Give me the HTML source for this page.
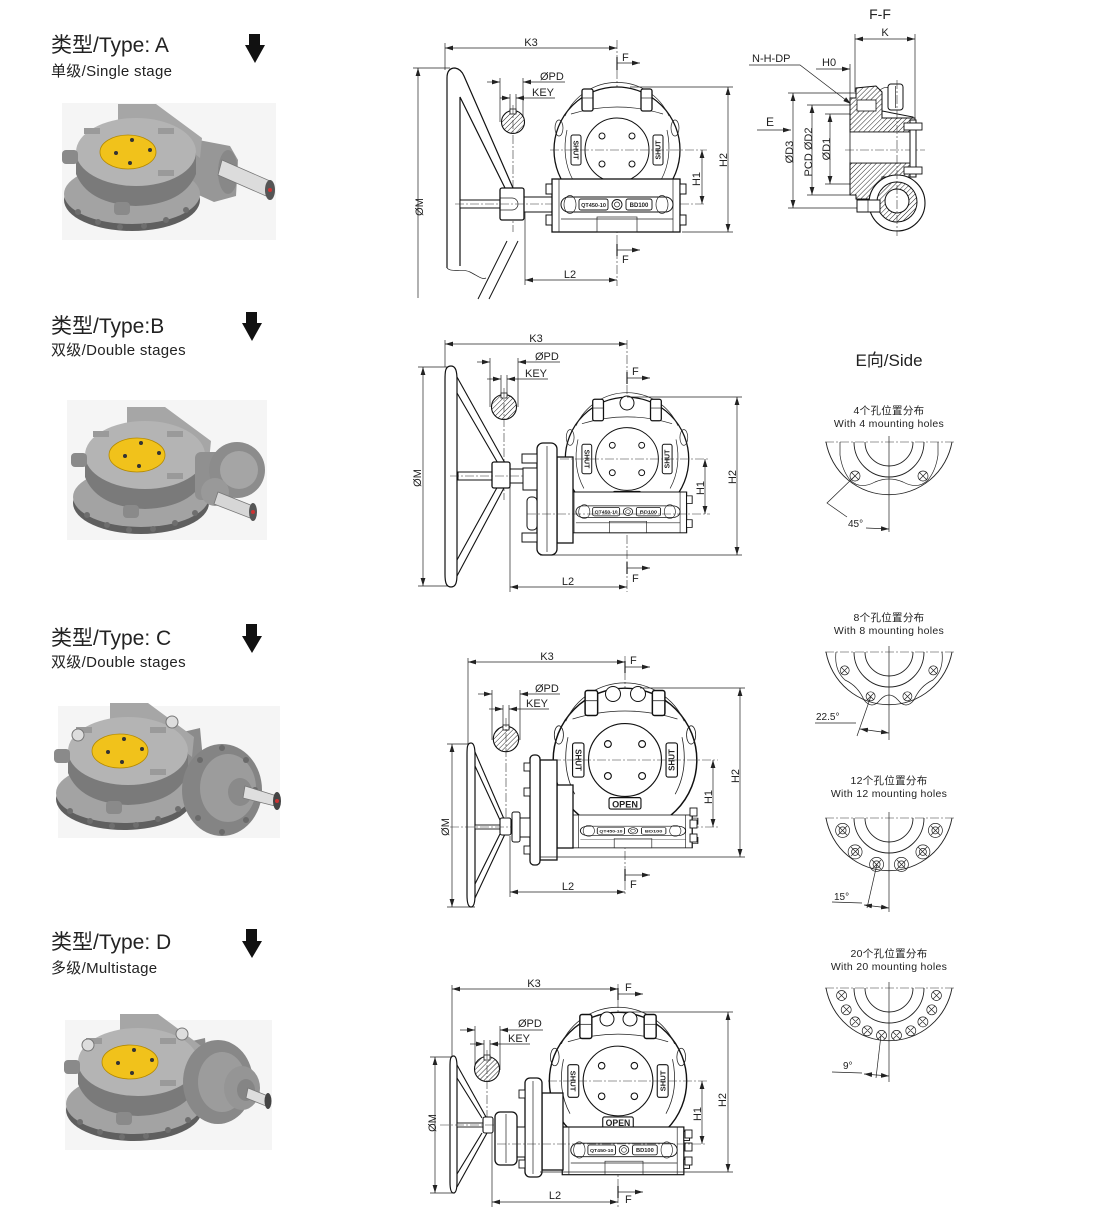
<!DOCTYPE html>
<html><head><meta charset="utf-8"><style>
html,body{margin:0;padding:0;background:#fff;}
svg{display:block;}
.t{fill:none;stroke:#222;stroke-width:.7}
.k{fill:#fff;stroke:#111;stroke-width:1.3}
.c{fill:none;stroke:#333;stroke-width:.6;stroke-dasharray:9 2 2 2}
text{fill:#222;font-family:"Liberation Sans","Noto Sans CJK SC",sans-serif;font-size:11px}
.ti{font-size:21px;fill:#222}
.su{font-size:15px;fill:#222;letter-spacing:.3px}
.sm{font-size:10.5px;letter-spacing:.3px}
</style></head><body>
<svg width="1095" height="1214" viewBox="0 0 1095 1214" xmlns="http://www.w3.org/2000/svg">
<defs>
<marker id="a" viewBox="0 0 8 6" refX="8" refY="3" markerWidth="8" markerHeight="6" markerUnits="userSpaceOnUse" orient="auto-start-reverse"><path d="M0,0.6 L8,3 L0,5.4 Z" fill="#222"/></marker>
<pattern id="h" width="3.5" height="3.5" patternUnits="userSpaceOnUse" patternTransform="rotate(45)"><rect width="3.5" height="3.5" fill="#fff"/><line x1="0" y1="0" x2="0" y2="3.5" stroke="#222" stroke-width="1"/></pattern>

<g id="gbt">
<circle r="63" class="k"/>
<path d="M-52,-34 A57,57 0 0 1 52,-34" class="t"/>
<path d="M-46,-36 Q0,-50 46,-36" class="t"/>
<path d="M-50,-20 Q-56,8 -44,30" class="t"/>
<path d="M50,-20 Q56,8 44,30" class="t"/>
<ellipse cx="-58" cy="-22" rx="4" ry="8" class="t"/>
<ellipse cx="58" cy="-22" rx="4" ry="8" class="t"/>
<rect x="-35" y="-61" width="11" height="22" rx="2" class="k"/>
<line x1="-35" y1="-52" x2="-24" y2="-52" class="t"/>
<rect x="24" y="-61" width="11" height="22" rx="2" class="k"/>
<line x1="24" y1="-52" x2="35" y2="-52" class="t"/>
<circle r="32" class="k" style="stroke-width:1"/>
<circle cx="-15" cy="-14" r="3" class="k" style="stroke-width:1"/>
<circle cx="15" cy="-14" r="3" class="k" style="stroke-width:1"/>
<circle cx="-15" cy="14" r="3" class="k" style="stroke-width:1"/>
<circle cx="15" cy="14" r="3" class="k" style="stroke-width:1"/>
<rect x="-46" y="-15" width="10" height="30" rx="2" class="k" style="stroke-width:1"/>
<text transform="translate(-43.5,0) rotate(90)" text-anchor="middle" style="font-size:7px;font-weight:bold">SHUT</text>
<rect x="36" y="-15" width="10" height="30" rx="2" class="k" style="stroke-width:1"/>
<text transform="translate(43.5,0) rotate(-90)" text-anchor="middle" style="font-size:7px;font-weight:bold">SHUT</text>
<rect x="-14" y="33" width="28" height="10" rx="1.5" class="k" style="stroke-width:1"/>
<text x="0" y="41.5" text-anchor="middle" style="font-size:8px;font-weight:bold">OPEN</text>
</g>

<g id="gbb">
<rect x="-65" y="0" width="128" height="53" class="k"/>
<line x1="-58" y1="0" x2="-58" y2="53" class="t"/>
<line x1="56" y1="0" x2="56" y2="53" class="t"/>
<rect x="-56" y="18" width="112" height="15" rx="7.5" class="k" style="stroke-width:1"/>
<ellipse cx="-47" cy="25.5" rx="6" ry="9" class="t"/>
<ellipse cx="45" cy="25.5" rx="6" ry="9" class="t"/>
<rect x="-38" y="20" width="29" height="11" rx="2" class="k" style="stroke-width:.9"/>
<text x="-23.5" y="28" text-anchor="middle" style="font-size:5.5px;font-weight:bold">QT450-10</text>
<circle cx="0" cy="25.5" r="5" class="k" style="stroke-width:.9"/>
<circle cx="0" cy="25.5" r="2.5" class="t"/>
<rect x="9" y="20" width="26" height="11" rx="2" class="k" style="stroke-width:.9"/>
<text x="22" y="28" text-anchor="middle" style="font-size:6px;font-weight:bold">BD100</text>
<line x1="-56" y1="40" x2="56" y2="40" class="t"/>
<rect x="-20" y="38" width="40" height="15" class="t"/>
<rect x="-71" y="5" width="6" height="10" class="k" style="stroke-width:1"/>
<rect x="-71" y="36" width="6" height="10" class="k" style="stroke-width:1"/>
<rect x="63" y="5" width="6" height="10" class="k" style="stroke-width:1"/>
<rect x="63" y="36" width="6" height="10" class="k" style="stroke-width:1"/>
</g>

<g id="pb">
<path d="M-10,-48 L28,-48 L74,-14 L72,6 L40,-20 L-10,-30Z" fill="#a6a6a6"/>
<ellipse cx="4" cy="48" rx="68" ry="31" fill="#5f5f5f"/>
<ellipse cx="4" cy="42" rx="68" ry="30" fill="#a3a3a3"/>
<g fill="#6e6e6e"><circle cx="-50" cy="60" r="3"/><circle cx="-30" cy="70" r="3"/><circle cx="-8" cy="75" r="3"/><circle cx="16" cy="74" r="3"/><circle cx="38" cy="68" r="3"/><circle cx="58" cy="58" r="3"/></g>
<path d="M-52,0 L-52,22 Q-40,52 8,54 Q56,52 68,22 L68,0 Z" fill="#7a7a7a"/>
<ellipse cx="8" cy="0" rx="60" ry="34" fill="#b4b4b4"/>
<rect x="-66" y="-2" width="16" height="14" rx="4" fill="#8a8a8a"/>
<rect x="-14" y="50" width="16" height="13" rx="4" fill="#8a8a8a"/>
<rect x="-44" y="-24" width="16" height="6" fill="#9a9a9a"/>
<rect x="30" y="-24" width="16" height="6" fill="#9a9a9a"/>
<rect x="30" y="18" width="16" height="6" fill="#9a9a9a"/>
<ellipse cx="0" cy="0" rx="28" ry="17" fill="#f1c21b" stroke="#b38900" stroke-width=".8"/>
<g fill="#333"><circle cx="4" cy="-12" r="2"/><circle cx="22" cy="-2" r="2"/><circle cx="-12" cy="1" r="2"/><circle cx="2" cy="11" r="2"/></g>
</g>
</defs>

<!-- ===== LEFT TITLES ===== -->
<text x="51" y="52" class="ti">类型/Type: A</text>
<text x="51" y="76" class="su">单级/Single stage</text>
<path d="M249,34 H260 V45 H265 L255,63 L245,45 H249 Z" fill="#111"/>

<text x="51" y="333" class="ti">类型/Type:B</text>
<text x="51" y="355" class="su">双级/Double stages</text>
<path d="M246,312 H257 V323 H262 L252,341 L242,323 H246 Z" fill="#111"/>

<text x="51" y="645" class="ti">类型/Type: C</text>
<text x="51" y="667" class="su">双级/Double stages</text>
<path d="M246,624 H257 V636 H262 L252,653 L242,636 H246 Z" fill="#111"/>

<text x="51" y="949" class="ti">类型/Type: D</text>
<text x="51" y="973" class="su">多级/Multistage</text>
<path d="M246,929 H257 V941 H262 L252,958 L242,941 H246 Z" fill="#111"/>

<!-- ===== PHOTOS ===== -->
<rect x="62" y="103" width="214" height="137" fill="#f5f5f5"/>
<path d="M188,138 L230,146 L238,160 L236,196 L214,202 L192,192 Z" fill="#979797"/>
<ellipse cx="228" cy="172" rx="10" ry="22" fill="#888"/>
<use href="#pb" transform="translate(128,152)"/>
<path d="M222,160 L270,181 L266,196 L218,175 Z" fill="#dcdcdc" stroke="#777" stroke-width=".8"/>
<ellipse cx="270" cy="190" rx="5" ry="10" fill="#555"/>
<circle cx="270" cy="190" r="2" fill="#c33"/>

<rect x="67" y="400" width="200" height="140" fill="#f5f5f5"/>
<use href="#pb" transform="translate(137,455)"/>
<rect x="195" y="452" width="30" height="48" rx="6" fill="#909090"/>
<circle cx="237" cy="470" r="28" fill="#8c8c8c"/>
<circle cx="239" cy="470" r="19" fill="#a5a5a5"/>
<circle cx="215" cy="492" r="14" fill="#999"/>
<path d="M218,492 L253,506 L250,518 L214,504 Z" fill="#d6d6d6" stroke="#777" stroke-width=".8"/>
<ellipse cx="253" cy="512" rx="4" ry="9" fill="#555"/>
<circle cx="253" cy="512" r="2" fill="#c33"/>

<rect x="58" y="706" width="222" height="132" fill="#f5f5f5"/>
<path d="M170,735 L200,728 L206,792 L180,802 Z" fill="#8b8b8b"/>
<use href="#pb" transform="translate(120,751)"/>
<ellipse cx="222" cy="790" rx="40" ry="46" fill="#848484"/>
<ellipse cx="228" cy="788" rx="28" ry="34" fill="#9c9c9c"/>
<g fill="#6a6a6a"><circle cx="200" cy="760" r="3"/><circle cx="222" cy="748" r="3"/><circle cx="246" cy="760" r="3"/><circle cx="255" cy="790" r="3"/><circle cx="246" cy="820" r="3"/><circle cx="222" cy="832" r="3"/><circle cx="198" cy="818" r="3"/></g>
<ellipse cx="240" cy="792" rx="12" ry="14" fill="#8a8a8a"/>
<path d="M245,786 L277,796 L275,806 L243,798 Z" fill="#dedede" stroke="#777" stroke-width=".8"/>
<ellipse cx="277" cy="801" rx="4" ry="9" fill="#444"/>
<circle cx="277" cy="801" r="2" fill="#c33"/>
<circle cx="78" cy="735" r="6" fill="#ddd" stroke="#777"/>
<circle cx="172" cy="722" r="6" fill="#ddd" stroke="#777"/>

<rect x="65" y="1020" width="207" height="130" fill="#f5f5f5"/>
<path d="M175,1045 L205,1038 L210,1100 L185,1108 Z" fill="#8b8b8b"/>
<use href="#pb" transform="translate(130,1062)"/>
<ellipse cx="218" cy="1082" rx="35" ry="42" fill="#888"/>
<ellipse cx="222" cy="1082" rx="24" ry="30" fill="#9c9c9c"/>
<ellipse cx="242" cy="1088" rx="18" ry="22" fill="#959595"/>
<ellipse cx="246" cy="1090" rx="9" ry="11" fill="#858585"/>
<path d="M248,1088 L268,1096 L266,1106 L246,1098 Z" fill="#dedede" stroke="#777" stroke-width=".8"/>
<ellipse cx="268" cy="1101" rx="3.5" ry="8" fill="#444"/>
<circle cx="88" cy="1045" r="6" fill="#ddd" stroke="#777"/>
<circle cx="182" cy="1034" r="6" fill="#ddd" stroke="#777"/>

<!-- ===== TYPE A DRAWING ===== -->
<line x1="445" y1="48" x2="617" y2="48" class="t" marker-start="url(#a)" marker-end="url(#a)"/>
<line x1="445" y1="43" x2="445" y2="70" class="t"/>
<text x="531" y="46" text-anchor="middle">K3</text>
<line x1="617" y1="40" x2="617" y2="286" class="c"/>
<line x1="617" y1="57" x2="617" y2="70" stroke="#222" stroke-width="1.2"/>
<line x1="617" y1="63" x2="640" y2="63" class="t" marker-end="url(#a)"/>
<text x="622" y="61">F</text>
<line x1="617" y1="244" x2="617" y2="256" stroke="#222" stroke-width="1.2"/>
<line x1="617" y1="250" x2="640" y2="250" class="t" marker-end="url(#a)"/>
<text x="622" y="263">F</text>
<line x1="418" y1="68" x2="418" y2="298" class="t" marker-start="url(#a)"/>
<line x1="413" y1="68" x2="450" y2="68" class="t"/>
<text transform="translate(423,207) rotate(-90)" text-anchor="middle">ØM</text>
<line x1="487" y1="82" x2="500" y2="82" class="t" marker-end="url(#a)"/>
<line x1="565" y1="82" x2="523" y2="82" class="t" marker-end="url(#a)"/>
<text x="540" y="80">ØPD</text>
<line x1="500" y1="78" x2="500" y2="122" class="t"/>
<line x1="523" y1="78" x2="523" y2="122" class="t"/>
<line x1="500" y1="98" x2="510" y2="98" class="t" marker-end="url(#a)"/>
<line x1="555" y1="98" x2="516" y2="98" class="t" marker-end="url(#a)"/>
<text x="532" y="96">KEY</text>
<line x1="510" y1="94" x2="510" y2="112" class="t"/>
<line x1="516" y1="94" x2="516" y2="112" class="t"/>
<circle cx="513" cy="122" r="11.5" fill="url(#h)" stroke="#111" stroke-width="1.1"/>
<rect x="510" y="109" width="6" height="5" fill="#fff" stroke="#111" stroke-width=".8"/>
<line x1="513" y1="105" x2="513" y2="232" class="c"/>
<path d="M447,268 V78 Q447,68 455,68 Q461,69 464,76 L513,188" fill="none" stroke="#111" stroke-width="1.2"/>
<path d="M460,266 V97 L505,188" fill="none" stroke="#111" stroke-width="1.2"/>
<path d="M447,268 C452,273 462,268 470,272 S482,280 486,278" class="t"/>
<line x1="478" y1="299" x2="507" y2="241" stroke="#111" stroke-width="1"/>
<line x1="489" y1="299" x2="518" y2="241" stroke="#111" stroke-width="1"/>
<rect x="460" y="200" width="40" height="8" class="k" style="stroke-width:1"/>
<rect x="524" y="197" width="28" height="15" class="k" style="stroke-width:1"/>
<rect x="500" y="188" width="24" height="32" rx="2" class="k"/>
<path d="M500,198 H512 A6,6 0 0 1 512,210 H500" class="t"/>
<line x1="455" y1="204" x2="706" y2="204" class="c"/>
<use href="#gbt" transform="translate(617,150)"/>
<use href="#gbb" transform="translate(617,179)"/>
<line x1="550" y1="150" x2="707" y2="150" class="c"/>
<line x1="728" y1="87" x2="728" y2="232" class="t" marker-start="url(#a)" marker-end="url(#a)"/>
<line x1="630" y1="87" x2="733" y2="87" class="t"/>
<line x1="682" y1="232" x2="733" y2="232" class="t"/>
<text transform="translate(727,160) rotate(-90)" text-anchor="middle">H2</text>
<line x1="702" y1="150" x2="702" y2="204" class="t" marker-start="url(#a)" marker-end="url(#a)"/>
<text transform="translate(700,179) rotate(-90)" text-anchor="middle">H1</text>
<line x1="525" y1="280" x2="617" y2="280" class="t" marker-start="url(#a)" marker-end="url(#a)"/>
<line x1="525" y1="212" x2="525" y2="285" class="t"/>
<text x="570" y="278" text-anchor="middle">L2</text>

<!-- ===== F-F SECTION ===== -->
<text x="880" y="19" text-anchor="middle" style="font-size:14px">F-F</text>
<line x1="855" y1="39" x2="915" y2="39" class="t" marker-start="url(#a)" marker-end="url(#a)"/>
<text x="885" y="36" text-anchor="middle">K</text>
<line x1="855" y1="34" x2="855" y2="92" class="t"/>
<line x1="915" y1="34" x2="915" y2="120" class="t"/>
<text x="752" y="62">N-H-DP</text>
<polyline points="749,65 800,65 851,104" class="t" marker-end="url(#a)"/>
<text x="822" y="66">H0</text>
<line x1="816" y1="69" x2="850" y2="69" class="t" marker-end="url(#a)"/>
<line x1="850" y1="64" x2="850" y2="98" class="t"/>
<text x="766" y="126" style="font-size:12px">E</text>
<line x1="757" y1="130" x2="791" y2="130" class="t" marker-end="url(#a)"/>
<line x1="793" y1="93" x2="793" y2="208" class="t" marker-start="url(#a)" marker-end="url(#a)"/>
<line x1="788" y1="93" x2="857" y2="93" class="t"/>
<line x1="788" y1="208" x2="862" y2="208" class="t"/>
<text transform="translate(793,152) rotate(-90)" text-anchor="middle">ØD3</text>
<line x1="812" y1="105" x2="812" y2="195" class="t" marker-start="url(#a)" marker-end="url(#a)"/>
<line x1="807" y1="105" x2="852" y2="105" class="t"/>
<line x1="807" y1="195" x2="852" y2="195" class="t"/>
<text transform="translate(812,152) rotate(-90)" text-anchor="middle">PCD ØD2</text>
<line x1="830" y1="114" x2="830" y2="184" class="t" marker-start="url(#a)" marker-end="url(#a)"/>
<line x1="825" y1="114" x2="850" y2="114" class="t"/>
<line x1="825" y1="184" x2="850" y2="184" class="t"/>
<text transform="translate(830,149) rotate(-90)" text-anchor="middle">ØD1</text>
<path d="M877,110 L913,117 L913,124 L877,124 Z" class="k" style="stroke-width:1"/>
<path d="M880,90 Q888,84 893,92" class="t"/>
<rect x="888" y="84" width="15" height="26" rx="3" class="k" style="stroke-width:1"/>
<line x1="895.5" y1="86" x2="895.5" y2="108" class="t"/>
<path d="M850,98 L856,98 L856,88 L876,86 L882,92 L882,118 L915,118 L915,132 L850,132 Z" fill="url(#h)" stroke="#111" stroke-width="1"/>
<rect x="857" y="100" width="19" height="11" fill="#fff" stroke="#111" stroke-width=".8"/>
<path d="M850,163 L915,163 L915,177 L882,177 L882,194 L874,199 L856,199 L856,195 L850,195 Z" fill="url(#h)" stroke="#111" stroke-width="1"/>
<rect x="850" y="132" width="65" height="31" fill="#fff" stroke="#111" stroke-width=".8"/>
<line x1="845" y1="150" x2="925" y2="150" class="c"/>
<rect x="910" y="120" width="6" height="57" class="k" style="stroke-width:1"/>
<rect x="904" y="123" width="18" height="7" class="k" style="stroke-width:.9"/>
<rect x="904" y="167" width="18" height="7" class="k" style="stroke-width:.9"/>
<circle cx="897" cy="203" r="28" fill="#fff" stroke="#111" stroke-width="1.1"/>
<circle cx="897" cy="202" r="20" fill="url(#h)" stroke="#111" stroke-width="1"/>
<circle cx="897" cy="201" r="12" fill="#fff" stroke="#111" stroke-width="1"/>
<rect x="857" y="200" width="23" height="12" class="k" style="stroke-width:1"/>
<line x1="868" y1="200" x2="868" y2="212" class="t"/>
<line x1="897" y1="80" x2="897" y2="236" class="c"/>

<!-- ===== TYPE B DRAWING ===== -->
<line x1="445" y1="344" x2="627" y2="344" class="t" marker-start="url(#a)" marker-end="url(#a)"/>
<line x1="445" y1="340" x2="445" y2="367" class="t"/>
<text x="536" y="342" text-anchor="middle">K3</text>
<line x1="627" y1="340" x2="627" y2="592" class="c"/>
<line x1="627" y1="372" x2="627" y2="384" stroke="#222" stroke-width="1.2"/>
<line x1="627" y1="378" x2="650" y2="378" class="t" marker-end="url(#a)"/>
<text x="632" y="375">F</text>
<line x1="627" y1="562" x2="627" y2="574" stroke="#222" stroke-width="1.2"/>
<line x1="627" y1="568" x2="650" y2="568" class="t" marker-end="url(#a)"/>
<text x="632" y="582">F</text>
<line x1="423" y1="367" x2="423" y2="586" class="t" marker-start="url(#a)" marker-end="url(#a)"/>
<line x1="418" y1="367" x2="450" y2="367" class="t"/>
<line x1="418" y1="586" x2="450" y2="586" class="t"/>
<text transform="translate(421,478) rotate(-90)" text-anchor="middle">ØM</text>
<line x1="477" y1="362" x2="490" y2="362" class="t" marker-end="url(#a)"/>
<line x1="560" y1="362" x2="518" y2="362" class="t" marker-end="url(#a)"/>
<text x="535" y="360">ØPD</text>
<line x1="490" y1="358" x2="490" y2="407" class="t"/>
<line x1="518" y1="358" x2="518" y2="407" class="t"/>
<line x1="487" y1="379" x2="501" y2="379" class="t" marker-end="url(#a)"/>
<line x1="548" y1="379" x2="507" y2="379" class="t" marker-end="url(#a)"/>
<text x="525" y="377">KEY</text>
<line x1="501" y1="375" x2="501" y2="396" class="t"/>
<line x1="507" y1="375" x2="507" y2="396" class="t"/>
<circle cx="504" cy="407" r="12.5" fill="url(#h)" stroke="#111" stroke-width="1.1"/>
<rect x="501" y="393" width="6" height="5" fill="#fff" stroke="#111" stroke-width=".8"/>
<line x1="504" y1="388" x2="504" y2="500" class="c"/>
<path d="M451,366 C445,366 445,372 445,380 L445,574 C445,582 446,587 451,587 C456,587 457,582 457,574 L457,380 C457,372 456,366 451,366 Z" class="k" style="stroke-width:1.2"/>
<line x1="457" y1="377" x2="505" y2="463" stroke="#111" stroke-width="1.1"/>
<line x1="457" y1="393" x2="499" y2="465" stroke="#111" stroke-width="1.1"/>
<line x1="457" y1="576" x2="505" y2="486" stroke="#111" stroke-width="1.1"/>
<line x1="457" y1="560" x2="499" y2="484" stroke="#111" stroke-width="1.1"/>
<rect x="458" y="472" width="34" height="8" class="k" style="stroke-width:1"/>
<rect x="508" y="469" width="15" height="14" class="k" style="stroke-width:1"/>
<rect x="492" y="462" width="18" height="26" rx="2" class="k"/>
<line x1="450" y1="476" x2="525" y2="476" class="c"/>
<use href="#gbt" transform="translate(627,459) scale(0.98)"/>
<circle cx="627" cy="403" r="7" class="k" style="stroke-width:1"/>
<use href="#gbb" transform="translate(628,492) scale(0.93,0.77)"/>
<rect x="557" y="457" width="16" height="86" class="k"/>
<rect x="537" y="443" width="20" height="112" rx="6" class="k"/>
<line x1="547" y1="446" x2="547" y2="552" class="t"/>
<rect x="522" y="454" width="15" height="9" class="k" style="stroke-width:1"/>
<rect x="523" y="468" width="14" height="22" class="k" style="stroke-width:1"/>
<rect x="527" y="497" width="10" height="33" rx="4" class="k" style="stroke-width:1"/>
<rect x="522" y="533" width="15" height="9" class="k" style="stroke-width:1"/>
<line x1="560" y1="459" x2="710" y2="459" class="c"/>
<line x1="527" y1="514" x2="710" y2="514" class="c"/>
<line x1="737" y1="397" x2="737" y2="555" class="t" marker-start="url(#a)" marker-end="url(#a)"/>
<line x1="627" y1="397" x2="742" y2="397" class="t"/>
<line x1="540" y1="555" x2="742" y2="555" class="t"/>
<text transform="translate(736,477) rotate(-90)" text-anchor="middle">H2</text>
<line x1="705" y1="459" x2="705" y2="514" class="t" marker-start="url(#a)" marker-end="url(#a)"/>
<text transform="translate(704,488) rotate(-90)" text-anchor="middle">H1</text>
<line x1="510" y1="587" x2="627" y2="587" class="t" marker-start="url(#a)" marker-end="url(#a)"/>
<line x1="510" y1="480" x2="510" y2="592" class="t"/>
<text x="568" y="585" text-anchor="middle">L2</text>

<!-- ===== TYPE C DRAWING ===== -->
<line x1="468" y1="662" x2="625" y2="662" class="t" marker-start="url(#a)" marker-end="url(#a)"/>
<line x1="468" y1="658" x2="468" y2="744" class="t"/>
<text x="547" y="660" text-anchor="middle">K3</text>
<line x1="625" y1="656" x2="625" y2="896" class="c"/>
<line x1="625" y1="661" x2="625" y2="673" stroke="#222" stroke-width="1.2"/>
<line x1="625" y1="667" x2="650" y2="667" class="t" marker-end="url(#a)"/>
<text x="630" y="664">F</text>
<line x1="625" y1="869" x2="625" y2="881" stroke="#222" stroke-width="1.2"/>
<line x1="625" y1="875" x2="650" y2="875" class="t" marker-end="url(#a)"/>
<text x="630" y="888">F</text>
<line x1="452" y1="744" x2="452" y2="907" class="t" marker-start="url(#a)" marker-end="url(#a)"/>
<line x1="447" y1="744" x2="470" y2="744" class="t"/>
<line x1="447" y1="907" x2="475" y2="907" class="t"/>
<text transform="translate(449,827) rotate(-90)" text-anchor="middle">ØM</text>
<line x1="478" y1="694" x2="492" y2="694" class="t" marker-end="url(#a)"/>
<line x1="560" y1="694" x2="520" y2="694" class="t" marker-end="url(#a)"/>
<text x="535" y="692">ØPD</text>
<line x1="492" y1="690" x2="492" y2="740" class="t"/>
<line x1="520" y1="690" x2="520" y2="740" class="t"/>
<line x1="489" y1="709" x2="503" y2="709" class="t" marker-end="url(#a)"/>
<line x1="549" y1="709" x2="509" y2="709" class="t" marker-end="url(#a)"/>
<text x="526" y="707">KEY</text>
<line x1="503" y1="705" x2="503" y2="727" class="t"/>
<line x1="509" y1="705" x2="509" y2="727" class="t"/>
<circle cx="506" cy="739" r="12.7" fill="url(#h)" stroke="#111" stroke-width="1.1"/>
<rect x="503" y="725" width="6" height="5" fill="#fff" stroke="#111" stroke-width=".8"/>
<line x1="506" y1="718" x2="506" y2="832" class="c"/>
<path d="M471,743 C467,743 467,748 467,755 L467,895 C467,902 468,907 471,907 C474,907 475,902 475,895 L475,755 C475,748 474,743 471,743 Z" class="k" style="stroke-width:1.2"/>
<line x1="475" y1="752" x2="504" y2="819" stroke="#111" stroke-width="1.1"/>
<line x1="475" y1="766" x2="500" y2="820" stroke="#111" stroke-width="1.1"/>
<line x1="475" y1="898" x2="505" y2="834" stroke="#111" stroke-width="1.1"/>
<line x1="475" y1="884" x2="500" y2="834" stroke="#111" stroke-width="1.1"/>
<rect x="475" y="825" width="25" height="4" class="k" style="stroke-width:.9"/>
<rect x="500" y="818" width="11" height="17" rx="2" class="k" style="stroke-width:1.1"/>
<line x1="450" y1="827" x2="718" y2="827" class="c"/>
<use href="#gbt" transform="translate(625,760) scale(1.14)"/>
<circle cx="613" cy="694" r="7.5" class="k" style="stroke-width:1"/>
<circle cx="638" cy="694" r="7.5" class="k" style="stroke-width:1"/>
<use href="#gbb" transform="translate(633,815) scale(0.94,0.62)"/>
<rect x="557" y="785" width="16" height="63" class="k"/>
<rect x="540" y="760" width="17" height="100" class="k"/>
<rect x="530" y="755" width="10" height="110" rx="4" class="k"/>
<rect x="524" y="763" width="6" height="8" class="k" style="stroke-width:.9"/>
<rect x="524" y="788" width="6" height="8" class="k" style="stroke-width:.9"/>
<rect x="524" y="846" width="6" height="8" class="k" style="stroke-width:.9"/>
<rect x="520" y="818" width="10" height="19" class="k" style="stroke-width:1"/>
<rect x="512" y="812" width="8" height="30" rx="2" class="k" style="stroke-width:1"/>
<rect x="690" y="808" width="7" height="8" class="k" style="stroke-width:.9"/>
<rect x="690" y="820" width="7" height="8" class="k" style="stroke-width:.9"/>
<rect x="690" y="834" width="7" height="8" class="k" style="stroke-width:.9"/>
<line x1="552" y1="760" x2="718" y2="760" class="c"/>
<line x1="740" y1="688" x2="740" y2="857" class="t" marker-start="url(#a)" marker-end="url(#a)"/>
<line x1="640" y1="688" x2="745" y2="688" class="t"/>
<line x1="540" y1="857" x2="745" y2="857" class="t"/>
<text transform="translate(739,776) rotate(-90)" text-anchor="middle">H2</text>
<line x1="713" y1="760" x2="713" y2="827" class="t" marker-start="url(#a)" marker-end="url(#a)"/>
<text transform="translate(712,797) rotate(-90)" text-anchor="middle">H1</text>
<line x1="510" y1="892" x2="625" y2="892" class="t" marker-start="url(#a)" marker-end="url(#a)"/>
<line x1="510" y1="836" x2="510" y2="897" class="t"/>
<text x="568" y="890" text-anchor="middle">L2</text>

<!-- ===== TYPE D DRAWING ===== -->
<line x1="452" y1="989" x2="618" y2="989" class="t" marker-start="url(#a)" marker-end="url(#a)"/>
<line x1="452" y1="985" x2="452" y2="1057" class="t"/>
<text x="534" y="987" text-anchor="middle">K3</text>
<line x1="618" y1="984" x2="618" y2="1208" class="c"/>
<line x1="618" y1="988" x2="618" y2="1000" stroke="#222" stroke-width="1.2"/>
<line x1="618" y1="994" x2="643" y2="994" class="t" marker-end="url(#a)"/>
<text x="625" y="991">F</text>
<line x1="618" y1="1186" x2="618" y2="1198" stroke="#222" stroke-width="1.2"/>
<line x1="618" y1="1192" x2="643" y2="1192" class="t" marker-end="url(#a)"/>
<text x="625" y="1203">F</text>
<line x1="435" y1="1057" x2="435" y2="1193" class="t" marker-start="url(#a)" marker-end="url(#a)"/>
<line x1="430" y1="1057" x2="455" y2="1057" class="t"/>
<line x1="430" y1="1193" x2="455" y2="1193" class="t"/>
<text transform="translate(436,1123) rotate(-90)" text-anchor="middle">ØM</text>
<line x1="460" y1="1030" x2="475" y2="1030" class="t" marker-end="url(#a)"/>
<line x1="543" y1="1030" x2="500" y2="1030" class="t" marker-end="url(#a)"/>
<text x="518" y="1027">ØPD</text>
<line x1="475" y1="1026" x2="475" y2="1070" class="t"/>
<line x1="500" y1="1026" x2="500" y2="1070" class="t"/>
<line x1="470" y1="1044" x2="484" y2="1044" class="t" marker-end="url(#a)"/>
<line x1="530" y1="1044" x2="490" y2="1044" class="t" marker-end="url(#a)"/>
<text x="508" y="1042">KEY</text>
<line x1="484" y1="1040" x2="484" y2="1058" class="t"/>
<line x1="490" y1="1040" x2="490" y2="1058" class="t"/>
<circle cx="487" cy="1069" r="12.5" fill="url(#h)" stroke="#111" stroke-width="1.1"/>
<rect x="484" y="1055" width="6" height="5" fill="#fff" stroke="#111" stroke-width=".8"/>
<line x1="487" y1="1050" x2="487" y2="1130" class="c"/>
<path d="M453.5,1056 C450,1056 450,1061 450,1067 L450,1182 C450,1189 451,1193 453.5,1193 C456,1193 457,1189 457,1182 L457,1067 C457,1061 456,1056 453.5,1056 Z" class="k" style="stroke-width:1.2"/>
<line x1="457" y1="1065" x2="486" y2="1117" stroke="#111" stroke-width="1.1"/>
<line x1="457" y1="1078" x2="482" y2="1118" stroke="#111" stroke-width="1.1"/>
<line x1="457" y1="1187" x2="487" y2="1133" stroke="#111" stroke-width="1.1"/>
<line x1="457" y1="1174" x2="482" y2="1133" stroke="#111" stroke-width="1.1"/>
<rect x="457" y="1123" width="26" height="4" class="k" style="stroke-width:.9"/>
<rect x="483" y="1117" width="10" height="16" rx="2" class="k" style="stroke-width:1.1"/>
<line x1="440" y1="1125" x2="495" y2="1125" class="c"/>
<use href="#gbt" transform="translate(618,1081) scale(1.09)"/>
<circle cx="607" cy="1019" r="7" class="k" style="stroke-width:1"/>
<circle cx="630" cy="1019" r="7" class="k" style="stroke-width:1"/>
<use href="#gbb" transform="translate(624,1127) scale(0.95,0.9)"/>
<rect x="542" y="1093" width="21" height="77" class="k"/>
<rect x="525" y="1078" width="17" height="99" rx="5" class="k"/>
<line x1="533" y1="1081" x2="533" y2="1174" class="t"/>
<rect x="519" y="1090" width="6" height="8" class="k" style="stroke-width:.9"/>
<rect x="519" y="1160" width="6" height="8" class="k" style="stroke-width:.9"/>
<rect x="517" y="1127" width="8" height="30" class="k" style="stroke-width:1"/>
<rect x="495" y="1112" width="22" height="53" rx="5" class="k"/>
<line x1="506" y1="1114" x2="506" y2="1163" class="t"/>
<rect x="685" y="1130" width="7" height="8" class="k" style="stroke-width:.9"/>
<rect x="685" y="1143" width="7" height="8" class="k" style="stroke-width:.9"/>
<rect x="685" y="1157" width="7" height="8" class="k" style="stroke-width:.9"/>
<line x1="548" y1="1081" x2="707" y2="1081" class="c"/>
<line x1="497" y1="1144" x2="707" y2="1144" class="c"/>
<line x1="728" y1="1012" x2="728" y2="1172" class="t" marker-start="url(#a)" marker-end="url(#a)"/>
<line x1="618" y1="1012" x2="733" y2="1012" class="t"/>
<line x1="540" y1="1172" x2="733" y2="1172" class="t"/>
<text transform="translate(726,1100) rotate(-90)" text-anchor="middle">H2</text>
<line x1="702" y1="1081" x2="702" y2="1144" class="t" marker-start="url(#a)" marker-end="url(#a)"/>
<text transform="translate(701,1114) rotate(-90)" text-anchor="middle">H1</text>
<line x1="492" y1="1202" x2="618" y2="1202" class="t" marker-start="url(#a)" marker-end="url(#a)"/>
<line x1="492" y1="1133" x2="492" y2="1207" class="t"/>
<text x="555" y="1199" text-anchor="middle">L2</text>

<!-- ===== SIDE VIEWS ===== -->
<text x="889" y="366" text-anchor="middle" style="font-size:17px">E向/Side</text>

<!-- 4 holes -->
<text x="889" y="414" text-anchor="middle" class="sm">4个孔位置分布</text>
<text x="889" y="427" text-anchor="middle" class="sm">With 4 mounting holes</text>
<line x1="825" y1="442" x2="955" y2="442" class="c"/>
<path d="M826,442 A64,64 0 0 0 952,442" class="t" style="stroke-width:.9"/>
<path d="M854,442 A35,35 0 0 0 924,442" class="t" style="stroke-width:.9"/>
<path d="M865,442 A24,24 0 0 0 913,442" class="t" style="stroke-width:.9"/>
<path d="M840,442 L840,455 Q842,470 850,480 Q860,490 875,482 Q889,476 903,482 Q918,490 928,480 Q936,470 938,455 L938,442" class="t"/>
<line x1="889" y1="436" x2="889" y2="532" class="t"/>
<g class="t"><circle cx="855" cy="476" r="5"/><circle cx="923" cy="476" r="5"/>
<path d="M851,472 L859,480 M859,472 L851,480 M919,472 L927,480 M927,472 L919,480"/></g>
<polyline points="855,476 827,503 847,517" class="t"/>
<text x="848" y="527" style="font-size:10px">45°</text>
<line x1="866" y1="528" x2="889" y2="529" class="t" marker-end="url(#a)"/>

<!-- 8 holes -->
<text x="889" y="621" text-anchor="middle" class="sm">8个孔位置分布</text>
<text x="889" y="634" text-anchor="middle" class="sm">With 8 mounting holes</text>
<line x1="825" y1="652" x2="955" y2="652" class="c"/>
<path d="M826,652 A64,64 0 0 0 952,652" class="t" style="stroke-width:.9"/>
<path d="M854,652 A35,35 0 0 0 924,652" class="t" style="stroke-width:.9"/>
<path d="M865,652 A24,24 0 0 0 913,652" class="t" style="stroke-width:.9"/>
<path d="M836,652 Q834,670 845,680 Q858,686 864,700 Q872,710 880,700 Q889,690 898,700 Q906,710 914,700 Q920,686 933,680 Q944,670 942,652" class="t"/>
<line x1="889" y1="646" x2="889" y2="740" class="t"/>
<g class="t"><circle cx="870.6" cy="696.3" r="4.5"/><circle cx="907.4" cy="696.3" r="4.5"/><circle cx="844.7" cy="670.4" r="4.5"/><circle cx="933.3" cy="670.4" r="4.5"/>
<path d="M867,693 L874,700 M874,693 L867,700 M904,693 L911,700 M911,693 L904,700 M841,667 L848,674 M848,667 L841,674 M930,667 L937,674 M937,667 L930,674"/></g>
<line x1="871" y1="696" x2="857" y2="736" class="t"/>
<text x="816" y="720" style="font-size:10px">22.5°</text>
<line x1="815" y1="723" x2="856" y2="723" class="t"/>
<line x1="860" y1="729" x2="889" y2="733" class="t" marker-start="url(#a)" marker-end="url(#a)"/>

<!-- 12 holes -->
<text x="889" y="784" text-anchor="middle" class="sm">12个孔位置分布</text>
<text x="889" y="797" text-anchor="middle" class="sm">With 12 mounting holes</text>
<line x1="825" y1="818" x2="955" y2="818" class="c"/>
<path d="M826,818 A64,64 0 0 0 952,818" class="t" style="stroke-width:.9"/>
<path d="M854,818 A35,35 0 0 0 924,818" class="t" style="stroke-width:.9"/>
<path d="M865,818 A24,24 0 0 0 913,818" class="t" style="stroke-width:.9"/>
<g class="t">
<circle cx="876.6" cy="864.4" r="7"/><circle cx="901.4" cy="864.4" r="7"/><circle cx="855.1" cy="851.9" r="7"/><circle cx="922.9" cy="851.9" r="7"/><circle cx="842.6" cy="830.4" r="7"/><circle cx="935.4" cy="830.4" r="7"/>
<circle cx="876.6" cy="864.4" r="3.5"/><circle cx="901.4" cy="864.4" r="3.5"/><circle cx="855.1" cy="851.9" r="3.5"/><circle cx="922.9" cy="851.9" r="3.5"/><circle cx="842.6" cy="830.4" r="3.5"/><circle cx="935.4" cy="830.4" r="3.5"/>
<path d="M872,860 L881,869 M881,860 L872,869 M897,860 L906,869 M906,860 L897,869 M851,847 L860,856 M860,847 L851,856 M918,847 L927,856 M927,847 L918,856 M838,826 L847,835 M847,826 L838,835 M931,826 L940,835 M940,826 L931,835"/>
</g>
<line x1="889" y1="812" x2="889" y2="912" class="t"/>
<line x1="877" y1="864" x2="867" y2="908" class="t"/>
<text x="834" y="900" style="font-size:10px">15°</text>
<line x1="832" y1="902" x2="862" y2="903" class="t"/>
<line x1="864" y1="905" x2="889" y2="908" class="t" marker-start="url(#a)" marker-end="url(#a)"/>

<!-- 20 holes -->
<text x="889" y="957" text-anchor="middle" class="sm">20个孔位置分布</text>
<text x="889" y="970" text-anchor="middle" class="sm">With 20 mounting holes</text>
<line x1="825" y1="988" x2="955" y2="988" class="c"/>
<path d="M826,988 A64,64 0 0 0 952,988" class="t" style="stroke-width:.9"/>
<path d="M854,988 A35,35 0 0 0 924,988" class="t" style="stroke-width:.9"/>
<path d="M865,988 A24,24 0 0 0 913,988" class="t" style="stroke-width:.9"/>
<g class="t">
<circle cx="881.5" cy="1035.4" r="5"/><circle cx="896.5" cy="1035.4" r="5"/><circle cx="867.2" cy="1030.8" r="5"/><circle cx="910.8" cy="1030.8" r="5"/><circle cx="855.1" cy="1021.9" r="5"/><circle cx="922.9" cy="1021.9" r="5"/><circle cx="846.2" cy="1009.8" r="5"/><circle cx="931.8" cy="1009.8" r="5"/><circle cx="841.6" cy="995.5" r="5"/><circle cx="936.4" cy="995.5" r="5"/>
<path d="M878,1032 L885,1039 M885,1032 L878,1039 M893,1032 L900,1039 M900,1032 L893,1039 M864,1027 L871,1034 M871,1027 L864,1034 M907,1027 L914,1034 M914,1027 L907,1034 M852,1018 L859,1025 M859,1018 L852,1025 M919,1018 L926,1025 M926,1018 L919,1025 M843,1006 L850,1013 M850,1006 L843,1013 M928,1006 L935,1013 M935,1006 L928,1013 M838,992 L845,999 M845,992 L838,999 M933,992 L940,999 M940,992 L933,999"/>
</g>
<line x1="889" y1="982" x2="889" y2="1082" class="t"/>
<line x1="881" y1="1035" x2="876" y2="1078" class="t"/>
<text x="843" y="1069" style="font-size:10px">9°</text>
<line x1="832" y1="1072" x2="862" y2="1073" class="t"/>
<line x1="864" y1="1074" x2="889" y2="1076" class="t" marker-start="url(#a)" marker-end="url(#a)"/>
</svg>
</body></html>
